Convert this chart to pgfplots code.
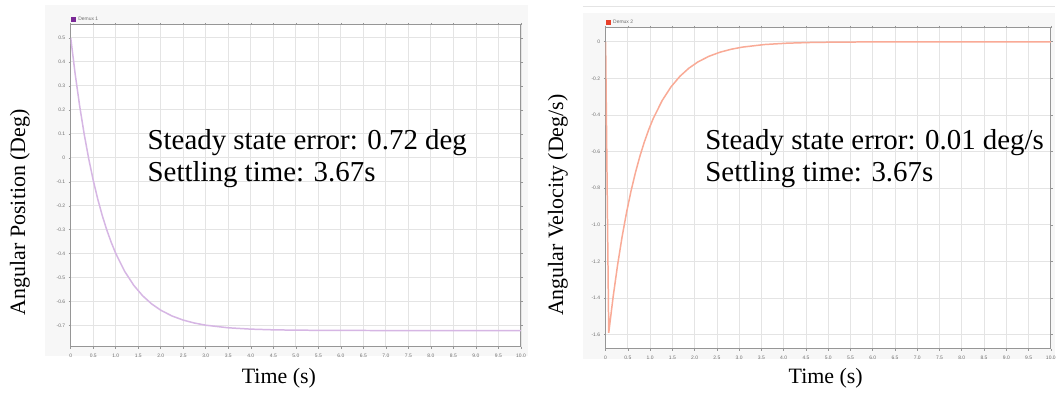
\documentclass[border=0pt]{standalone}
\usepackage{pgfplots}
\pgfplotsset{compat=1.18}
\usepackage{fontspec}
\setmainfont{Liberation Serif}
\setsansfont{Liberation Sans}
\definecolor{posline}{RGB}{214,182,228}
\definecolor{posmark}{RGB}{122,40,150}
\definecolor{velline}{RGB}{249,170,150}
\definecolor{velmark}{RGB}{232,64,42}
\definecolor{panel}{RGB}{247,247,247}
\definecolor{gridc}{RGB}{228,228,228}
\definecolor{axc}{RGB}{150,150,150}
\definecolor{tickc}{RGB}{110,110,110}
\pgfplotsset{
  scopestyle/.style={
    scale only axis, anchor=south west,
    xmin=0, xmax=10,
    axis line style={axc, line width=1pt},
    grid=major, major grid style={gridc, line width=0.8pt},
    tick align=outside, major tick length=2pt,
    tick style={axc, line width=0.6pt},
    ticklabel style={font=\fontsize{5}{6}\selectfont\sffamily, text=tickc},
    /pgf/number format/assume math mode=true,
    xtick={0,0.5,1,1.5,2,2.5,3,3.5,4,4.5,5,5.5,6,6.5,7,7.5,8,8.5,9,9.5,10},
    xticklabels={0,0.5,1.0,1.5,2.0,2.5,3.0,3.5,4.0,4.5,5.0,5.5,6.0,6.5,7.0,7.5,8.0,8.5,9.0,9.5,10.0},
    xticklabel style={yshift=-2pt},
    legend style={at={(0,1)}, anchor=south west, draw=none, fill=none,
      font=\fontsize{5}{6}\selectfont\sffamily, text=tickc, inner sep=0.5pt,
      legend cell align=left},
  }
}
\begin{document}
\begin{tikzpicture}[x=1pt,y=1pt]
\path (0,0) rectangle (1059,394);
\fill[panel] (45,37) rectangle (530,389);
\fill[panel] (585,34) rectangle (1059,381);
\draw[gridc, line width=0.6pt] (585,388) -- (1059,388);

\begin{axis}[scopestyle, at={(71pt,46pt)}, width=452pt, height=323pt,
  ymin=-0.787, ymax=0.554,
  ytick={-0.7,-0.6,-0.5,-0.4,-0.3,-0.2,-0.1,0,0.1,0.2,0.3,0.4,0.5},
  yticklabels={-0.7,-0.6,-0.5,-0.4,-0.3,-0.2,-0.1,0,0.1,0.2,0.3,0.4,0.5},
  axis background/.style={fill=white}]
\addplot[posline, line width=1.5pt, mark=none, legend image code/.code={\fill[posmark] (0pt,-1.6pt) rectangle (3.4pt,1.8pt);}] coordinates {
(0,0.5) (0.1,0.3477) (0.2,0.2144) (0.3,0.0978) (0.4,-0.0043) (0.5,-0.0937)
(0.6,-0.1718) (0.7,-0.2403) (0.8,-0.3001) (0.9,-0.3525) (1.0,-0.3984)
(1.2,-0.4737) (1.4,-0.5314) (1.6,-0.5756) (1.8,-0.6093) (2.0,-0.6352)
(2.25,-0.6593) (2.5,-0.6765) (2.75,-0.6888) (3.0,-0.6977) (3.5,-0.7085)
(4.0,-0.7141) (4.5,-0.7170) (5.0,-0.7184) (6.0,-0.7196) (7.0,-0.7199)
(8.0,-0.72) (9.0,-0.72) (10.0,-0.72)};
\addlegendentry{Demux 1}
\end{axis}

\begin{axis}[scopestyle, at={(608pt,44pt)}, width=447pt, height=322pt,
  ymin=-1.676, ymax=0.076,
  ytick={-1.6,-1.4,-1.2,-1,-0.8,-0.6,-0.4,-0.2,0},
  yticklabels={-1.6,-1.4,-1.2,-1.0,-0.8,-0.6,-0.4,-0.2,0},
  axis background/.style={fill=white}]
\addplot[velline, line width=1.5pt, mark=none, legend image code/.code={\fill[velmark] (0pt,-1.6pt) rectangle (3.4pt,1.8pt);}] coordinates {
(0,0) (0.07,-1.59) (0.17,-1.3916) (0.27,-1.2178) (0.37,-1.0658) (0.47,-0.9327)
(0.57,-0.8163) (0.67,-0.7144) (0.77,-0.6252) (0.87,-0.5473) (0.97,-0.4789)
(1.07,-0.4191) (1.27,-0.3210) (1.47,-0.2458) (1.67,-0.1883) (1.87,-0.1442)
(2.07,-0.1105) (2.32,-0.0792) (2.57,-0.0568) (2.82,-0.0407) (3.07,-0.0291)
(3.57,-0.0149) (4.07,-0.0077) (4.57,-0.0039) (5.07,-0.0020) (6.0,-0.0005)
(7.0,-0.0001) (8.0,0) (9.0,0) (10.0,0)};
\addlegendentry{Demux 2}
\end{axis}

\node[rotate=90, font=\fontsize{22}{24}\selectfont] at (20,181) {Angular Position (Deg)};
\node[rotate=90, font=\fontsize{22}{24}\selectfont] at (560,188) {Angular Velocity (Deg/s)};
\node[font=\fontsize{22}{24}\selectfont] at (280,14) {Time (s)};
\node[font=\fontsize{22}{24}\selectfont] at (829,14) {Time (s)};

\node[anchor=base west, inner sep=0, font=\fontsize{29}{32}\selectfont] at (148,244) {Steady state error: 0.72 deg};
\node[anchor=base west, inner sep=0, font=\fontsize{29}{32}\selectfont] at (148,212) {Settling time: 3.67s};
\node[anchor=base west, inner sep=0, font=\fontsize{29}{32}\selectfont] at (708,244) {Steady state error: 0.01 deg/s};
\node[anchor=base west, inner sep=0, font=\fontsize{29}{32}\selectfont] at (708,212) {Settling time: 3.67s};
\end{tikzpicture}
\end{document}
